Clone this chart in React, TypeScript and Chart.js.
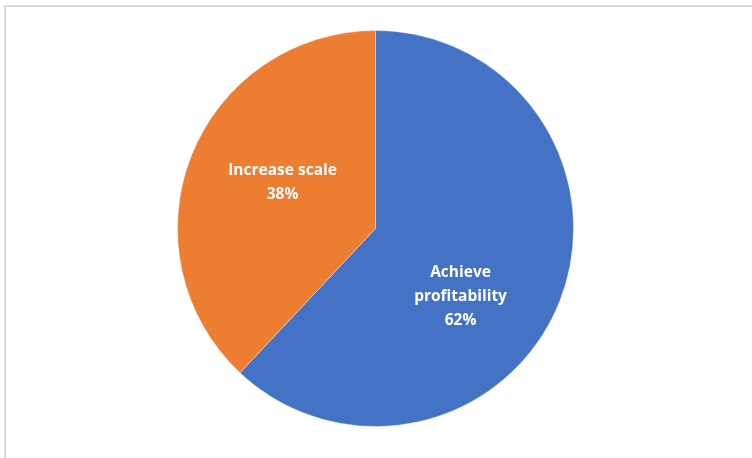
import React, { useEffect, useRef } from "react";
import { Chart, registerables } from "chart.js";

Chart.register(...registerables);

// Strategic priority split
const categories: string[] = ["Achieve profitability", "Increase scale"];
const shares: number[] = [62, 38];
const sliceColors: string[] = ["#4472C4", "#ED7D31"];
// Data label text lines per slice (name words, then the share)
const labelLines: string[][] = [
  ["Achieve", "profitability", "62%"],
  ["Increase scale", "38%"],
];
// Label placement: [angle shift in degrees from slice middle, fraction of radius]
const labelPlacement: [number, number][] = [
  [16.8, 0.548],
  [5.0, 0.525],
];

const sliceLabels = {
  id: "sliceLabels",
  afterDatasetsDraw(chart: Chart) {
    const meta = chart.getDatasetMeta(0);
    const ctx = chart.ctx;
    ctx.save();
    ctx.fillStyle = "#ffffff";
    ctx.font = "bold 15.5px 'Open Sans'";
    ctx.textAlign = "center";
    ctx.textBaseline = "middle";
    const lineH = 24;
    meta.data.forEach((el: any, i: number) => {
      const { x, y, startAngle, endAngle, outerRadius } = el.getProps(
        ["x", "y", "startAngle", "endAngle", "outerRadius"],
        true
      );
      const [shift, frac] = labelPlacement[i];
      const mid = (startAngle + endAngle) / 2 + (shift * Math.PI) / 180;
      const cx = x + Math.cos(mid) * outerRadius * frac;
      const cy = y + Math.sin(mid) * outerRadius * frac + 1;
      const lines = labelLines[i];
      const top = cy - ((lines.length - 1) * lineH) / 2;
      lines.forEach((t, k) => ctx.fillText(t, cx, top + k * lineH));
    });
    ctx.restore();
  },
};

export default function App() {
  const canvasRef = useRef<HTMLCanvasElement | null>(null);

  useEffect(() => {
    document.body.style.margin = "0";
    const canvas = canvasRef.current;
    if (!canvas) return;
    const chart = new Chart(canvas, {
      type: "pie",
      data: {
        labels: categories,
        datasets: [
          {
            data: shares,
            backgroundColor: sliceColors,
            borderColor: "rgba(255,255,255,0.35)",
            borderWidth: 1,
          },
        ],
      },
      options: {
        animation: false,
        responsive: false,
        maintainAspectRatio: false,
        layout: { padding: { left: 177, right: 178, top: 30, bottom: 31 } },
        plugins: {
          legend: { display: false },
          tooltip: { enabled: false },
        },
      },
      plugins: [sliceLabels],
    });
    return () => chart.destroy();
  }, []);

  return (
    <div
      style={{
        position: "relative",
        width: 752,
        height: 458,
        overflow: "hidden",
        background: "#ffffff",
      }}
    >
      <div
        style={{
          position: "absolute",
          left: 4,
          top: 5,
          width: 800,
          height: 500,
          borderLeft: "2px solid #d9d9d9",
          borderTop: "2px solid #d9d9d9",
        }}
      />
      <canvas
        ref={canvasRef}
        width={752}
        height={458}
        style={{ position: "absolute", left: 0, top: 0, width: 752, height: 458 }}
      />
    </div>
  );
}
